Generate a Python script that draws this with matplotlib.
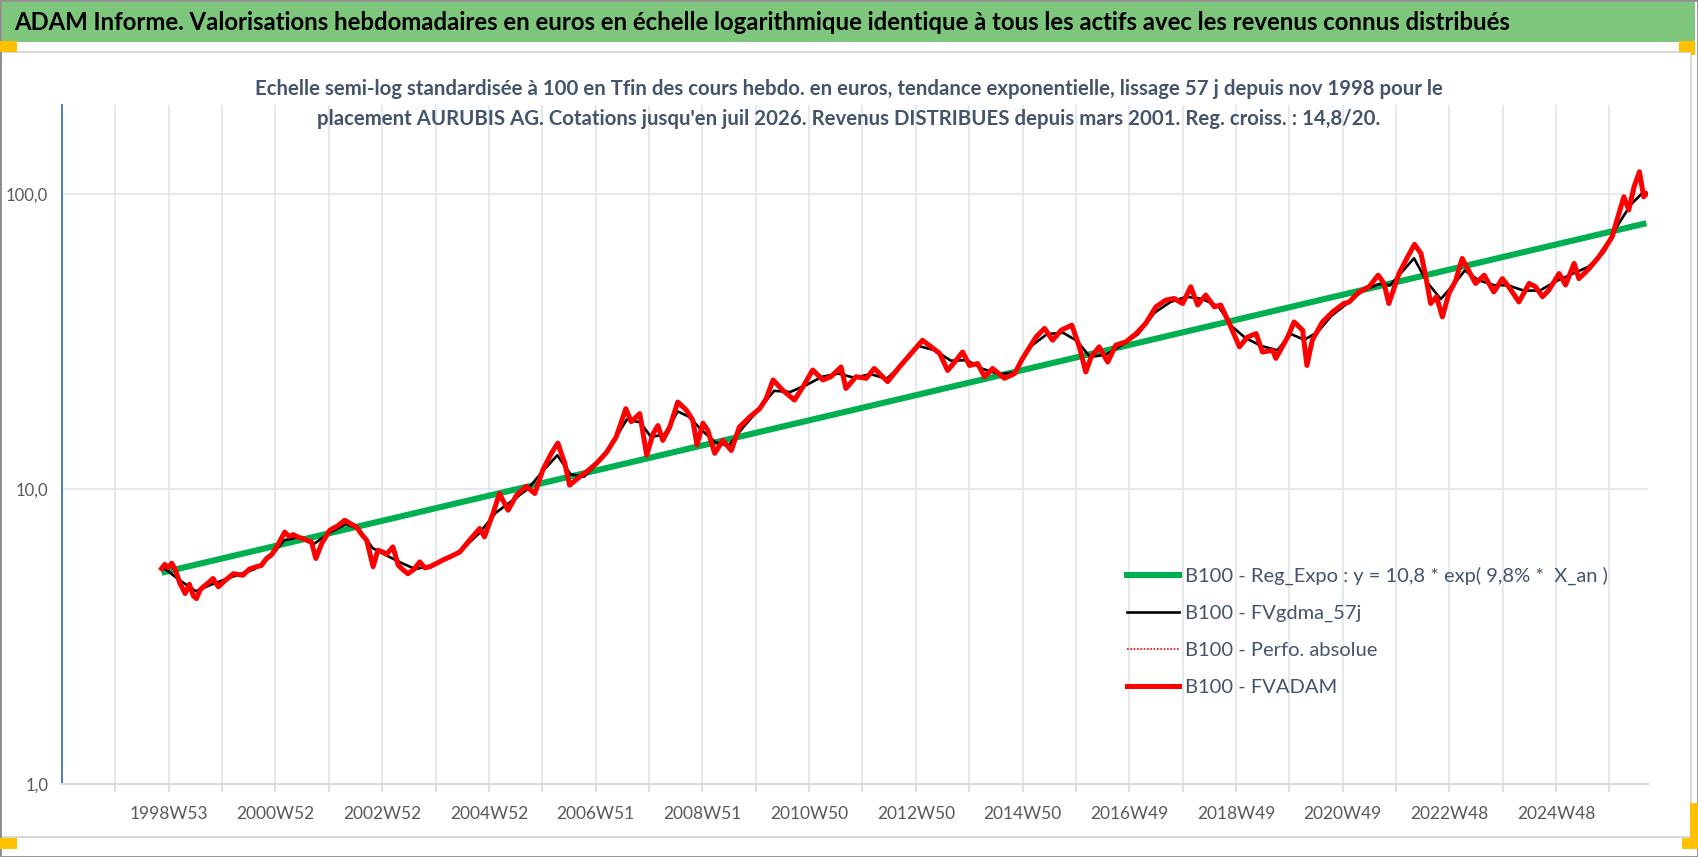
import matplotlib
matplotlib.use("Agg")
import matplotlib.pyplot as plt
from matplotlib.patches import Rectangle
from matplotlib.lines import Line2D
from matplotlib.ticker import FixedLocator, NullLocator

# ---------------- data ----------------
# decimal years of the sampled weeks, values in base 100 at Tfin
years = [
    1998.86, 1998.92, 1998.98, 1999.05, 1999.12, 1999.20, 1999.30, 1999.38, 1999.45, 1999.51,
    1999.58, 1999.64, 1999.73, 1999.82, 1999.92, 2000.05, 2000.20, 2000.38, 2000.50, 2000.63,
    2000.72, 2000.82, 2000.92, 2001.01, 2001.16, 2001.24, 2001.32, 2001.42, 2001.50, 2001.66,
    2001.74, 2001.85, 2002.00, 2002.15, 2002.28, 2002.40, 2002.50, 2002.60, 2002.69, 2002.81,
    2002.90, 2003.00, 2003.06, 2003.18, 2003.28, 2003.38, 2003.46, 2003.58, 2003.68, 2003.78,
    2003.87, 2004.00, 2004.12, 2004.24, 2004.43, 2004.61, 2004.80, 2004.89, 2005.05, 2005.17,
    2005.33, 2005.49, 2005.67, 2005.83, 2005.98, 2006.14, 2006.26, 2006.39, 2006.48, 2006.67,
    2006.79, 2006.98, 2007.17, 2007.35, 2007.53, 2007.63, 2007.79, 2007.92, 2008.04, 2008.13,
    2008.22, 2008.35, 2008.50, 2008.66, 2008.78, 2008.86, 2008.97, 2009.06, 2009.19, 2009.34,
    2009.50, 2009.65, 2009.84, 2010.03, 2010.15, 2010.28, 2010.46, 2010.68, 2010.84, 2011.02,
    2011.21, 2011.36, 2011.55, 2011.64, 2011.83, 2012.02, 2012.17, 2012.42, 2012.64, 2012.86,
    2013.07, 2013.23, 2013.39, 2013.54, 2013.70, 2013.82, 2013.95, 2014.10, 2014.23, 2014.38,
    2014.60, 2014.79, 2014.94, 2015.19, 2015.35, 2015.50, 2015.66, 2015.86, 2016.00, 2016.12,
    2016.22, 2016.37, 2016.53, 2016.68, 2016.87, 2017.06, 2017.24, 2017.43, 2017.61, 2017.77,
    2017.93, 2018.08, 2018.21, 2018.36, 2018.52, 2018.64, 2018.80, 2018.99, 2019.14, 2019.30,
    2019.42, 2019.61, 2019.67, 2019.89, 2020.01, 2020.17, 2020.25, 2020.35, 2020.54, 2020.73,
    2020.94, 2021.04, 2021.22, 2021.41, 2021.58, 2021.69, 2021.78, 2021.97, 2022.13, 2022.26,
    2022.38, 2022.47, 2022.56, 2022.67, 2022.78, 2022.90, 2023.03, 2023.15, 2023.28, 2023.40,
    2023.56, 2023.74, 2023.90, 2024.02, 2024.21, 2024.40, 2024.52, 2024.65, 2024.77, 2024.96,
    2025.08, 2025.24, 2025.33, 2025.52, 2025.70, 2025.83, 2025.95, 2026.04, 2026.17, 2026.26,
    2026.36, 2026.46, 2026.54, 2026.59,
]
fvadam = [
    5.37, 5.55, 5.40, 5.60, 5.30, 4.80, 4.42, 4.75, 4.35, 4.25,
    4.55, 4.66, 4.80, 4.97, 4.66, 4.90, 5.16, 5.10, 5.35, 5.45,
    5.50, 5.81, 6.00, 6.36, 7.14, 6.90, 7.00, 6.85, 6.79, 6.60,
    5.81, 6.53, 7.24, 7.50, 7.83, 7.60, 7.43, 7.00, 6.70, 5.45,
    6.20, 6.10, 6.00, 6.36, 5.51, 5.30, 5.16, 5.35, 5.66, 5.40,
    5.45, 5.60, 5.75, 5.88, 6.11, 6.70, 7.34, 6.88, 8.26, 9.65,
    8.47, 9.53, 10.2, 9.65, 11.6, 13.2, 14.3, 12.2, 10.3, 11.0,
    11.4, 12.2, 13.3, 15.0, 18.7, 16.9, 18.0, 13.0, 15.4, 16.4,
    14.6, 16.2, 19.7, 18.5, 17.1, 14.1, 16.7, 15.8, 13.2, 14.6,
    13.5, 16.2, 17.5, 18.7, 20.2, 23.4, 21.6, 20.0, 22.2, 25.3,
    23.4, 24.0, 25.9, 21.9, 24.0, 23.7, 25.6, 23.1, 25.9, 28.8,
    31.9, 30.3, 28.8, 25.2, 27.3, 29.1, 26.2, 26.6, 24.0, 25.6,
    23.7, 24.6, 27.7, 32.7, 35.0, 31.9, 34.5, 35.9, 30.3, 24.9,
    28.0, 30.3, 26.9, 30.7, 31.5, 33.6, 36.4, 41.4, 43.6, 44.2,
    42.5, 48.4, 42.0, 45.4, 41.4, 42.0, 36.4, 30.3, 32.7, 33.6,
    29.1, 29.5, 27.7, 32.7, 36.8, 34.5, 26.2, 31.9, 36.8, 39.8,
    42.5, 43.0, 46.5, 48.4, 53.0, 49.7, 42.5, 53.7, 61.1, 67.4,
    62.8, 52.4, 42.5, 44.8, 38.3, 45.9, 50.9, 60.4, 54.5, 49.7,
    53.0, 46.5, 51.6, 48.4, 43.0, 49.7, 48.4, 44.8, 47.2, 53.7,
    49.1, 58.1, 51.6, 55.8, 61.1, 66.1, 71.5, 81.5, 97.7, 88.1,
    105.6, 118.8, 97.7, 100.0,
]
# "Perfo. absolue" sits exactly under FVADAM in the reference
perfo_abs = fvadam

# 57-day moving average (smoother black curve)
years_mm = [
    1998.90, 1999.20, 1999.50, 1999.80, 2000.20, 2000.60, 2000.90, 2001.15, 2001.40, 2001.70,
    2002.00, 2002.30, 2002.55, 2002.80, 2003.10, 2003.35, 2003.60, 2003.90, 2004.20, 2004.50,
    2004.80, 2005.10, 2005.40, 2005.70, 2006.00, 2006.25, 2006.50, 2006.75, 2007.00, 2007.30,
    2007.55, 2007.80, 2008.00, 2008.25, 2008.50, 2008.70, 2008.95, 2009.20, 2009.45, 2009.70,
    2010.00, 2010.30, 2010.60, 2010.90, 2011.20, 2011.50, 2011.80, 2012.10, 2012.40, 2012.70,
    2013.00, 2013.30, 2013.60, 2013.90, 2014.20, 2014.50, 2014.80, 2015.10, 2015.40, 2015.70,
    2015.95, 2016.20, 2016.50, 2016.80, 2017.10, 2017.40, 2017.70, 2018.00, 2018.30, 2018.60,
    2018.85, 2019.10, 2019.40, 2019.70, 2019.95, 2020.20, 2020.45, 2020.70, 2021.00, 2021.30,
    2021.60, 2021.80, 2022.05, 2022.25, 2022.50, 2022.75, 2023.00, 2023.20, 2023.45, 2023.75,
    2024.00, 2024.30, 2024.60, 2024.90, 2025.20, 2025.50, 2025.80, 2026.05, 2026.30, 2026.50,
    2026.59,
]
fvgdma = [
    5.40, 4.90, 4.50, 4.75, 5.05, 5.35, 5.90, 6.70, 6.85, 6.50,
    7.10, 7.60, 7.30, 6.30, 5.90, 5.60, 5.35, 5.50, 5.80, 6.30,
    7.10, 8.30, 9.10, 10.0, 11.6, 13.0, 11.2, 11.0, 12.2, 14.5,
    17.2, 16.8, 15.0, 15.3, 18.3, 17.6, 15.8, 14.4, 14.0, 16.0,
    18.5, 21.5, 21.3, 22.5, 24.0, 24.6, 23.8, 24.5, 23.6, 26.5,
    30.5, 29.5, 27.2, 27.3, 25.5, 24.5, 24.8, 30.5, 33.5, 33.8,
    31.8, 28.0, 28.5, 30.8, 33.5, 39.5, 43.0, 44.8, 44.0, 41.5,
    35.5, 32.5, 30.5, 29.5, 33.5, 32.0, 34.0, 38.5, 42.5, 47.0,
    49.5, 49.0, 55.0, 60.5, 50.0, 44.0, 49.5, 55.0, 51.0, 49.0,
    49.0, 47.0, 47.0, 50.5, 53.5, 56.5, 63.5, 78.0, 92.0, 100.0,
    100.0,
]

# exponential regression: straight line on the log scale, ends
trend_years = [1998.86, 2026.59]
trend_vals = [5.2, 79.5]

tick_labels = ["1998W53", "2000W52", "2002W52", "2004W52", "2006W51", "2008W51", "2010W50",
               "2012W50", "2014W50", "2016W49", "2018W49", "2020W49", "2022W48", "2024W48"]

legend_labels = ["B100 - Reg_Expo : y = 10,8 * exp( 9,8% *  X_an )",
                 "B100 - FVgdma_57j",
                 "B100 - Perfo. absolue",
                 "B100 - FVADAM"]

title = ("ADAM Informe. Valorisations hebdomadaires en euros en échelle logarithmique "
         "identique à tous les actifs avec les revenus connus distribués")
subtitle = ("Echelle semi-log standardisée à 100 en Tfin des cours hebdo. en euros, tendance "
            "exponentielle, lissage 57 j depuis nov 1998 pour le\nplacement AURUBIS AG. "
            "Cotations jusqu'en juil 2026. Revenus DISTRIBUES depuis mars 2001. Reg. croiss. : 14,8/20.")

# ---------------- figure ----------------
plt.rcParams["font.family"] = ["Lato", "DejaVu Sans"]

W, H = 1698, 857
fig = plt.figure(figsize=(W / 100, H / 100), dpi=100)

def px(x, y):
    return x / W, 1 - y / H

# chart frame and green title bar (behind the axes)
fig.add_artist(Rectangle(px(1, 837), 1690 / W, 785 / H, transform=fig.transFigure,
                         facecolor="white", edgecolor="#d9d9d9", lw=1.5, zorder=-5))
fig.add_artist(Rectangle(px(2, 42), 1693 / W, 40 / H, transform=fig.transFigure,
                         facecolor="#7dc67b", edgecolor="none", zorder=-4))
# outer border and orange selection handles
fig.add_artist(Rectangle((0, 0), 1, 1, transform=fig.transFigure, facecolor="none",
                         edgecolor="#8c8c8c", lw=2, zorder=20))
for (x0, y0, w, h) in [(0, 41, 17, 11), (1679, 41, 16, 11), (1691, 41, 4, 14),
                       (0, 838, 17, 11), (1690, 803, 8, 46), (1682, 838, 16, 11)]:
    fig.add_artist(Rectangle(px(x0, y0 + h), w / W, h / H, transform=fig.transFigure,
                             facecolor="#ffc000", edgecolor="none", zorder=21))

fig.text(*px(14, 22), title, fontsize=17.2, fontweight="bold", color="black",
         va="center", ha="left")
fig.text(*px(849, 104), subtitle, fontsize=14.7, fontweight="bold", color="#44546a",
         va="center", ha="center", linespacing=1.6)

x0_ax, x1_ax, ytop, ybot = 62, 1648, 105, 784
ax = fig.add_axes([x0_ax / W, 1 - ybot / H, (x1_ax - x0_ax) / W, (ybot - ytop) / H])
ax.set_facecolor("none")

ax.plot(trend_years, trend_vals, color="#00b050", lw=4.4, solid_capstyle="butt", zorder=3)
ax.plot(years_mm, fvgdma, color="black", lw=1.9, zorder=4)
ax.plot(years, perfo_abs, color="red", lw=1.2, ls=(0, (1, 1)), zorder=5)
ax.plot(years, fvadam, color="#ff0000", lw=3.6, zorder=6)

ax.set_yscale("log")
ax.set_ylim(1, 200)
ax.yaxis.set_major_locator(FixedLocator([1, 10, 100]))
ax.yaxis.set_minor_locator(NullLocator())
ax.set_yticklabels(["1,0", "10,0", "100,0"])

# Excel category axis: one gridline per 52 weeks, a label every 104 weeks
step = 364 / 365.25
x_left = 1997.0
ax.set_xlim(x_left, 2026.62)
grid_x = [x_left + k * step for k in range(1, 30)]
ax.set_xticks(grid_x)
ax.set_xticklabels([tick_labels[(k - 2) // 2] if k % 2 == 0 and (k - 2) // 2 < len(tick_labels) else ""
                    for k in range(1, 30)])

ax.grid(True, axis="both", color="#e3e6ec", lw=1.3)
ax.set_axisbelow(True)
for s in ["top", "right"]:
    ax.spines[s].set_visible(False)
ax.spines["left"].set_color("#4472c4")
ax.spines["left"].set_linewidth(1.3)
ax.spines["bottom"].set_color("#d9d9d9")
ax.spines["bottom"].set_linewidth(1.5)
ax.tick_params(axis="y", length=0, pad=10, labelsize=12, labelcolor="#595959")
ax.tick_params(axis="x", length=6, width=1.2, color="#d9d9d9", pad=10, labelsize=12.5,
               labelcolor="#595959")

handles = [Line2D([], [], color="#00b050", lw=4.4),
           Line2D([], [], color="black", lw=1.9),
           Line2D([], [], color="red", lw=1.2, ls=(0, (1, 1))),
           Line2D([], [], color="#ff0000", lw=3.6)]
fig.legend(handles, legend_labels, loc="upper left", bbox_to_anchor=px(1127, 567),
           bbox_transform=fig.transFigure, frameon=False, fontsize=14.5, labelcolor="#44546a",
           handlelength=2.6, handletextpad=0.3, labelspacing=0.98, borderpad=0,
           borderaxespad=0)

fig.savefig("out.png", dpi=100)
